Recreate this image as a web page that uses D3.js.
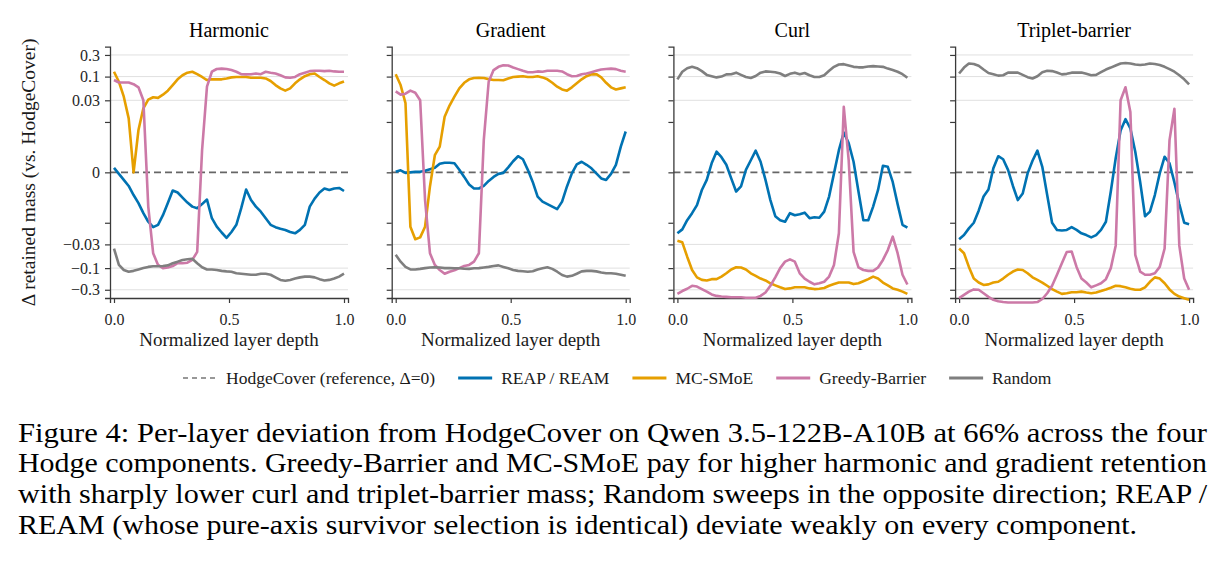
<!DOCTYPE html>
<html lang="en">
<head>
<meta charset="utf-8">
<title>Per-layer deviation from HodgeCover</title>
<style>
  body { margin: 0; background: #fff; }
  svg { display: block; font-family: "Liberation Serif", "Times New Roman", serif; }
</style>
</head>
<body>
<svg id="chart" width="1222" height="565"></svg>
<script src="https://cdn.jsdelivr.net/npm/d3@7"></script>
<script>
// ---- data ----
const components = ["Harmonic", "Gradient", "Curl", "Triplet-barrier"];
const methods = ["REAP / REAM", "MC-SMoE", "Greedy-Barrier", "Random"];
const numLayers = 48;

const harmonicReap = [0.0009,-0.0003,-0.0015,-0.0027,-0.0045,-0.0061,-0.0081,-0.0098,-0.0125,-0.0111,-0.0085,-0.0061,-0.0036,-0.0040,-0.0050,-0.0060,-0.0068,-0.0071,-0.0063,-0.0054,-0.0091,-0.0122,-0.0164,-0.0215,-0.0160,-0.0111,-0.0071,-0.0034,-0.0055,-0.0068,-0.0078,-0.0091,-0.0111,-0.0125,-0.0136,-0.0144,-0.0160,-0.0171,-0.0144,-0.0111,-0.0068,-0.0052,-0.0040,-0.0032,-0.0035,-0.0032,-0.0031,-0.0037];
const harmonicMcsmoe = [0.128,0.077,0.036,0.012,0.0,0.0084,0.020,0.031,0.035,0.034,0.040,0.049,0.065,0.087,0.107,0.122,0.128,0.113,0.098,0.084,0.087,0.087,0.087,0.091,0.096,0.098,0.098,0.098,0.094,0.094,0.094,0.091,0.080,0.065,0.055,0.049,0.055,0.071,0.087,0.102,0.113,0.117,0.098,0.084,0.071,0.063,0.071,0.078];
const harmonicGreedy = [0.084,0.074,0.074,0.074,0.068,0.058,0.030,-0.0068,-0.047,-0.085,-0.100,-0.097,-0.090,-0.078,-0.078,-0.076,-0.066,-0.044,0.0044,0.060,0.128,0.147,0.150,0.147,0.139,0.128,0.113,0.112,0.113,0.117,0.113,0.128,0.122,0.117,0.107,0.096,0.094,0.098,0.113,0.122,0.132,0.134,0.134,0.132,0.134,0.130,0.128,0.128];
const harmonicRandom = [-0.037,-0.085,-0.110,-0.120,-0.115,-0.107,-0.100,-0.094,-0.091,-0.091,-0.090,-0.087,-0.078,-0.072,-0.066,-0.064,-0.062,-0.078,-0.096,-0.107,-0.107,-0.110,-0.115,-0.118,-0.120,-0.130,-0.133,-0.136,-0.140,-0.140,-0.133,-0.133,-0.140,-0.160,-0.182,-0.190,-0.182,-0.170,-0.160,-0.154,-0.154,-0.160,-0.175,-0.187,-0.182,-0.170,-0.154,-0.133];

const gradientReap = [0.0001,0.0004,-0.0001,0,0.0001,0.0001,0.0003,0.0006,0.0009,0.0017,0.0019,0.0019,0.0018,0.0005,-0.0009,-0.0024,-0.0032,-0.0032,-0.0027,-0.0017,-0.0009,-0.0003,-0.0001,0.0010,0.0022,0.0032,0.0026,0.0005,-0.0019,-0.0048,-0.0058,-0.0063,-0.0068,-0.0073,-0.0058,-0.0028,-0.0002,0.0016,0.0021,0.0015,0.0008,-0.0002,-0.0012,-0.0015,-0.0003,0.0015,0.0051,0.0081];
const gradientMcsmoe = [0.113,0.065,0.026,-0.0122,-0.023,-0.021,-0.0122,-0.0028,0.0034,0.0051,0.013,0.023,0.036,0.055,0.073,0.087,0.093,0.094,0.093,0.088,0.084,0.084,0.083,0.091,0.098,0.100,0.102,0.098,0.098,0.102,0.096,0.087,0.073,0.060,0.052,0.049,0.058,0.071,0.087,0.102,0.112,0.113,0.096,0.073,0.058,0.052,0.055,0.058];
const gradientGreedy = [0.047,0.040,0.042,0.049,0.044,0.030,-0.0055,-0.047,-0.085,-0.110,-0.133,-0.120,-0.112,-0.100,-0.090,-0.085,-0.072,-0.047,0.0064,0.077,0.139,0.164,0.178,0.175,0.158,0.146,0.134,0.125,0.125,0.130,0.128,0.134,0.134,0.134,0.130,0.113,0.102,0.103,0.113,0.117,0.125,0.134,0.143,0.147,0.150,0.146,0.134,0.128];
const gradientRandom = [-0.051,-0.072,-0.094,-0.107,-0.107,-0.104,-0.100,-0.097,-0.096,-0.097,-0.100,-0.100,-0.101,-0.101,-0.103,-0.104,-0.101,-0.100,-0.097,-0.094,-0.090,-0.087,-0.094,-0.101,-0.110,-0.115,-0.117,-0.120,-0.117,-0.107,-0.101,-0.096,-0.104,-0.120,-0.142,-0.154,-0.148,-0.133,-0.118,-0.115,-0.115,-0.118,-0.125,-0.130,-0.130,-0.133,-0.140,-0.148];

const curlReap = [-0.0171,-0.0140,-0.0095,-0.0081,-0.0065,-0.0035,-0.0015,0.0018,0.0041,0.0030,0.0015,-0.0012,-0.0038,-0.0028,0.0005,0.0024,0.0043,0.0021,-0.0015,-0.0055,-0.0087,-0.0095,-0.0098,-0.0081,-0.0085,-0.0083,-0.0080,-0.0091,-0.0089,-0.0090,-0.0078,-0.0048,-0.0002,0.0044,0.0079,0.0058,0.0021,-0.0038,-0.0095,-0.0095,-0.0068,-0.0035,0.0013,0.0011,-0.0019,-0.0063,-0.0111,-0.0128];
const curlMcsmoe = [-0.025,-0.027,-0.056,-0.110,-0.160,-0.182,-0.187,-0.175,-0.175,-0.154,-0.130,-0.107,-0.096,-0.097,-0.107,-0.130,-0.148,-0.170,-0.187,-0.216,-0.240,-0.265,-0.290,-0.280,-0.265,-0.265,-0.265,-0.280,-0.290,-0.285,-0.275,-0.245,-0.225,-0.208,-0.208,-0.208,-0.225,-0.216,-0.195,-0.175,-0.154,-0.170,-0.208,-0.240,-0.280,-0.300,-0.330,-0.370];
const curlGreedy = [-0.370,-0.320,-0.285,-0.245,-0.255,-0.290,-0.330,-0.380,-0.410,-0.424,-0.430,-0.440,-0.440,-0.440,-0.450,-0.450,-0.450,-0.410,-0.345,-0.245,-0.160,-0.100,-0.072,-0.064,-0.072,-0.130,-0.170,-0.200,-0.228,-0.216,-0.200,-0.154,-0.085,-0.0171,0.0216,0.0024,-0.044,-0.096,-0.110,-0.115,-0.115,-0.097,-0.066,-0.040,-0.0202,-0.047,-0.140,-0.230];
const curlRandom = [0.087,0.128,0.153,0.164,0.153,0.132,0.109,0.102,0.096,0.100,0.112,0.113,0.122,0.109,0.098,0.093,0.103,0.122,0.130,0.128,0.125,0.117,0.103,0.115,0.122,0.113,0.120,0.107,0.098,0.098,0.107,0.134,0.164,0.185,0.188,0.176,0.164,0.160,0.160,0.167,0.170,0.167,0.164,0.150,0.139,0.128,0.113,0.094];

const tripletReap = [-0.023,-0.0187,-0.0133,-0.0100,-0.0076,-0.0048,-0.0034,0.0008,0.0032,0.0026,0.0005,-0.0027,-0.0055,-0.0042,-0.0002,0.0023,0.0043,0.0011,-0.0045,-0.0100,-0.0144,-0.0148,-0.0144,-0.0125,-0.0144,-0.0171,-0.0187,-0.0210,-0.0187,-0.0144,-0.0098,-0.0038,0.0028,0.0083,0.0115,0.0087,0.0041,-0.0019,-0.0087,-0.0078,-0.0045,-0.0002,0.0031,0.0018,-0.0020,-0.0063,-0.0100,-0.0108];
const tripletMcsmoe = [-0.037,-0.047,-0.094,-0.170,-0.208,-0.235,-0.228,-0.208,-0.200,-0.170,-0.140,-0.119,-0.107,-0.110,-0.130,-0.160,-0.182,-0.208,-0.245,-0.290,-0.330,-0.370,-0.358,-0.340,-0.340,-0.330,-0.345,-0.358,-0.345,-0.320,-0.295,-0.270,-0.245,-0.250,-0.265,-0.285,-0.300,-0.300,-0.265,-0.200,-0.160,-0.170,-0.216,-0.295,-0.370,-0.424,-0.460,-0.500];
const tripletGreedy = [-0.46,-0.39,-0.33,-0.295,-0.30,-0.358,-0.43,-0.50,-0.54,-0.56,-0.575,-0.575,-0.575,-0.575,-0.575,-0.575,-0.56,-0.48,-0.358,-0.245,-0.14,-0.078,-0.044,-0.043,-0.094,-0.17,-0.208,-0.265,-0.24,-0.216,-0.175,-0.10,-0.032,0.030,0.058,0.0165,-0.051,-0.12,-0.14,-0.14,-0.13,-0.094,-0.037,0.0064,0.0195,-0.032,-0.17,-0.30];
const tripletRandom = [0.117,0.158,0.195,0.190,0.173,0.143,0.120,0.113,0.105,0.107,0.122,0.122,0.122,0.109,0.097,0.091,0.102,0.125,0.134,0.132,0.123,0.112,0.115,0.122,0.122,0.123,0.115,0.107,0.109,0.125,0.143,0.158,0.176,0.195,0.200,0.195,0.185,0.180,0.185,0.195,0.190,0.180,0.164,0.146,0.128,0.107,0.087,0.067];

const yTickValues = [0.3, 0.1, 0.03, 0.01, 0, -0.01, -0.03, -0.1, -0.3];
const yTickLabels = ["0.3", "0.1", "0.03", "", "0", "", "\u22120.03", "\u22120.1", "\u22120.3"];
const yGridValues = [0.3, 0.1, 0.03, -0.03, -0.1, -0.3];
const xTickValues = [0, 0.5, 1];

const seriesByPanel = [
  [harmonicReap, harmonicMcsmoe, harmonicGreedy, harmonicRandom],
  [gradientReap, gradientMcsmoe, gradientGreedy, gradientRandom],
  [curlReap, curlMcsmoe, curlGreedy, curlRandom],
  [tripletReap, tripletMcsmoe, tripletGreedy, tripletRandom]
];
const colors = ["#0072B2", "#E69F00", "#CC79A7", "#7f7f7f"];

const captionLines = [
  "Figure 4: Per-layer deviation from HodgeCover on Qwen 3.5-122B-A10B at 66% across the four",
  "Hodge components. Greedy-Barrier and MC-SMoE pay for higher harmonic and gradient retention",
  "with sharply lower curl and triplet-barrier mass; Random sweeps in the opposite direction; REAP /",
  "REAM (whose pure-axis survivor selection is identical) deviate weakly on every component."
];
const captionWidths = [1189, 1189, 1189, 1119];

// ---- symlog transform (linthresh 0.01, linscale 1, base 10) ----
const linthresh = 0.01;
const linscaleAdj = 1 / (1 - 1 / 10);
function fwd(v) {
  const a = Math.abs(v);
  if (a <= linthresh) return v / linthresh * linscaleAdj;
  return Math.sign(v) * (linscaleAdj + Math.log10(a / linthresh));
}
function inv(t) {
  const a = Math.abs(t);
  if (a <= linscaleAdj) return t / linscaleAdj * linthresh;
  return Math.sign(t) * linthresh * Math.pow(10, a - linscaleAdj);
}
function symlogScale(lin) {
  const s = v => lin(fwd(v));
  s.domain = () => lin.domain().map(inv);
  s.range = () => lin.range();
  s.copy = () => symlogScale(lin.copy());
  return s;
}

const svg = d3.select("#chart");
const panelW = 238, panelStep = 281.7, firstLeft = 110;
const plotTop = 46.7, plotBottom = 298;
const y = symlogScale(d3.scaleLinear().domain([-2.77, 2.77]).range([plotBottom, plotTop]));

components.forEach((name, k) => {
  const left = firstLeft + k * panelStep;
  const x = d3.scaleLinear().domain([-0.0174, 1.0174]).range([left, left + panelW]);
  const g = svg.append("g");

  // grid
  g.selectAll("line.grid").data(yGridValues).join("line")
    .attr("x1", left).attr("x2", left + panelW)
    .attr("y1", d => y(d)).attr("y2", d => y(d))
    .attr("stroke", "#e0e0e0").attr("stroke-width", 1);

  // reference line
  g.append("line")
    .attr("x1", left).attr("x2", left + panelW)
    .attr("y1", y(0)).attr("y2", y(0))
    .attr("stroke", "#666").attr("stroke-width", 1.6)
    .attr("stroke-dasharray", "7,4");

  // axes
  const ya = g.append("g").attr("transform", `translate(${left},0)`)
    .call(d3.axisLeft(y).tickValues(yTickValues).tickSizeOuter(0).tickSize(5).tickPadding(5)
      .tickFormat((d, i) => k === 0 ? yTickLabels[i] : ""));
  const xa = g.append("g").attr("transform", `translate(0,${plotBottom})`)
    .call(d3.axisBottom(x).tickValues(xTickValues).tickSizeOuter(0).tickSize(5)
      .tickFormat(d3.format(".1f")));
  [ya, xa].forEach(a => {
    a.select(".domain").attr("stroke", "#3a3a3a").attr("stroke-width", 1.3);
    a.selectAll(".tick line").attr("stroke", "#3a3a3a").attr("stroke-width", 1.2);
    a.selectAll("text").attr("font-family", "Liberation Serif").attr("font-size", 16).attr("fill", "#262626");
  });
  xa.selectAll(".tick text").attr("y", 26.5).attr("dy", null);

  // series
  const line = d3.line().x((d, i) => x(i / (numLayers - 1))).y(d => y(d));
  seriesByPanel[k].forEach((vals, m) => {
    g.append("path").datum(vals)
      .attr("fill", "none").attr("stroke", colors[m])
      .attr("stroke-width", 2.6).attr("stroke-linejoin", "round")
      .attr("d", line);
  });

  // title and x label
  g.append("text").attr("x", left + panelW / 2).attr("y", 37)
    .attr("text-anchor", "middle").attr("font-size", 20).text(name);
  g.append("text").attr("x", left + panelW / 2).attr("y", 346)
    .attr("text-anchor", "middle").attr("font-size", 19).attr("fill", "#1a1a1a")
    .text("Normalized layer depth");
});

svg.append("text")
  .attr("transform", `translate(35,${(plotTop + plotBottom) / 2}) rotate(-90)`)
  .attr("text-anchor", "middle").attr("font-size", 19.5).attr("fill", "#1a1a1a")
  .text("\u0394 retained mass (vs. HodgeCover)");

// legend
const legendItems = [{label: "HodgeCover (reference, \u0394=0)", color: "#777", dash: "5,4", w: 1.6}]
  .concat(methods.map((m, i) => ({label: m, color: colors[i], dash: null, w: 3.2})));
let lx = 183;
const ly = 378;
legendItems.forEach(it => {
  svg.append("line").attr("x1", lx).attr("x2", lx + 34).attr("y1", ly).attr("y2", ly)
    .attr("stroke", it.color).attr("stroke-width", it.w)
    .attr("stroke-dasharray", it.dash);
  const t = svg.append("text").attr("x", lx + 43).attr("y", ly + 6)
    .attr("font-size", 17.5).attr("fill", "#1a1a1a").text(it.label);
  lx += 43 + t.node().getComputedTextLength() + 23;
});

// caption
captionLines.forEach((s, i) => {
  svg.append("text").attr("x", 18).attr("y", 441.7 + i * 30.6)
    .attr("font-size", 26.5).attr("fill", "#000")
    .attr("textLength", captionWidths[i]).attr("lengthAdjust", "spacingAndGlyphs")
    .text(s);
});
</script>
</body>
</html>
